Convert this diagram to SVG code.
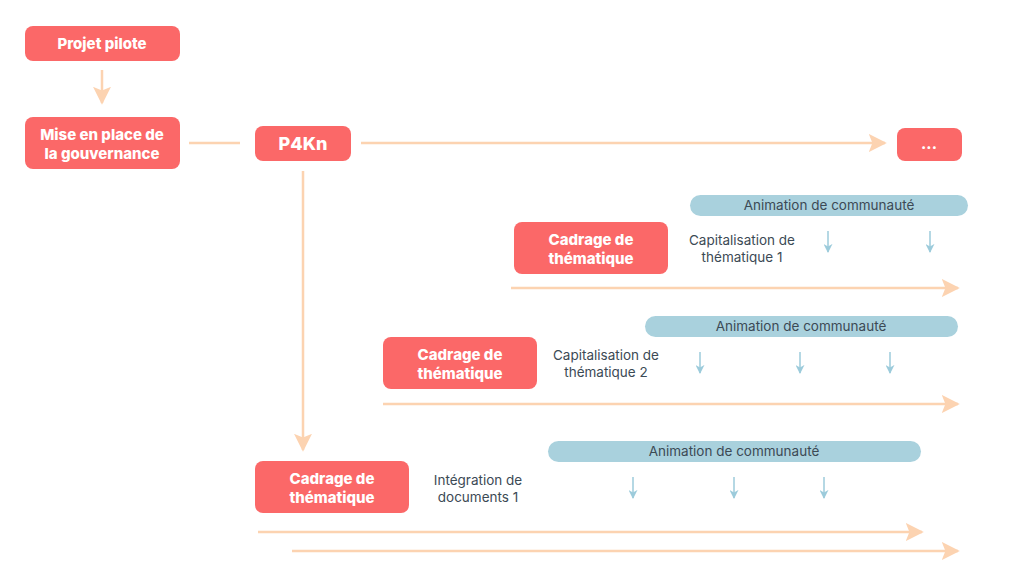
<svg xmlns="http://www.w3.org/2000/svg" width="1024" height="576" viewBox="0 0 1024 576">
<style>
.n{fill:#FB6868}
.t{font-family:Inter,"Noto Sans",sans-serif;font-weight:800;fill:#fff;text-anchor:middle;font-size:15px}
.bar{fill:#A9D1DD}
.bt{font-family:Inter,"Noto Sans",sans-serif;font-size:13.5px;fill:#3C4A55;text-anchor:middle}
.c{stroke:#FCD3B1;stroke-width:2.5;fill:none}
.b{stroke:#9CCBDB;stroke-width:1.5;fill:none}
</style>
<defs>
<marker id="a" markerWidth="8" markerHeight="8" refX="6" refY="4" orient="auto" markerUnits="userSpaceOnUse" viewBox="0 0 8 8"><path d="M0,0L8,4L0,8Z" fill="#FCD3B1"/></marker>
<marker id="pa" viewBox="0 0 10 10" refX="9" refY="5" markerWidth="18" markerHeight="18" orient="auto" markerUnits="userSpaceOnUse"><path d="M0,0L10,5L0,10L2,5Z" fill="#FCD3B1"/></marker>
<marker id="ba" viewBox="0 0 10 10" refX="9" refY="5" markerWidth="9" markerHeight="9" orient="auto" markerUnits="userSpaceOnUse"><path d="M0,0L10,5L0,10L3,5Z" fill="#9CCBDB"/></marker>
</defs>
<rect width="1024" height="576" fill="#fff"/>
<g id="connectors">
<line class="c" x1="102" y1="70" x2="102" y2="103" marker-end="url(#pa)"/>
<line class="c" x1="189" y1="143" x2="240" y2="143"/>
<line class="c" x1="361" y1="143" x2="885" y2="143" marker-end="url(#pa)"/>
<line class="c" x1="303" y1="171" x2="303" y2="450" marker-end="url(#pa)"/>
<line class="c" x1="511" y1="288" x2="958" y2="288" marker-end="url(#pa)"/>
<line class="c" x1="383" y1="404" x2="958" y2="404" marker-end="url(#pa)"/>
<line class="c" x1="258" y1="532" x2="922" y2="532" marker-end="url(#pa)"/>
<line class="c" x1="292" y1="551" x2="958" y2="551" marker-end="url(#pa)"/>
<g class="b">
<line x1="828" y1="231" x2="828" y2="252" marker-end="url(#ba)"/>
<line x1="930" y1="231" x2="930" y2="252" marker-end="url(#ba)"/>
<line x1="700" y1="352" x2="700" y2="373" marker-end="url(#ba)"/>
<line x1="800" y1="352" x2="800" y2="373" marker-end="url(#ba)"/>
<line x1="890" y1="352" x2="890" y2="373" marker-end="url(#ba)"/>
<line x1="633" y1="477" x2="633" y2="498" marker-end="url(#ba)"/>
<line x1="734" y1="477" x2="734" y2="498" marker-end="url(#ba)"/>
<line x1="824" y1="477" x2="824" y2="498" marker-end="url(#ba)"/>
</g>
</g>
<g id="projet"><rect class="n" x="25" y="26" width="155" height="35" rx="8"/><text class="t" x="102" y="49">Projet pilote</text></g>
<g id="mise"><rect class="n" x="25" y="117" width="155" height="52" rx="8"/><text class="t" x="102" y="140">Mise en place de</text><text class="t" x="102" y="159">la gouvernance</text></g>
<g id="p4kn"><rect class="n" x="255" y="126" width="96" height="35" rx="8"/><text class="t" x="303" y="150" font-size="18" style="font-size:18px">P4Kn</text></g>
<g id="dots"><rect class="n" x="897" y="128" width="65" height="33" rx="8"/><text class="t" x="929" y="149">...</text></g>
<g id="anim1"><rect class="bar" x="690" y="195" width="278" height="21" rx="10.5"/><text class="bt" x="829" y="210">Animation de communauté</text></g>
<g id="cad1"><rect class="n" x="514" y="222" width="154" height="52" rx="8"/><text class="t" x="591" y="245">Cadrage de</text><text class="t" x="591" y="264">thématique</text></g>
<g id="cap1"><text class="bt" x="742" y="245">Capitalisation de</text><text class="bt" x="742" y="262">thématique 1</text></g>
<g id="anim2"><rect class="bar" x="645" y="316" width="313" height="21" rx="10.5"/><text class="bt" x="801" y="331">Animation de communauté</text></g>
<g id="cad2"><rect class="n" x="383" y="337" width="154" height="52" rx="8"/><text class="t" x="460" y="360">Cadrage de</text><text class="t" x="460" y="379">thématique</text></g>
<g id="cap2"><text class="bt" x="606" y="360">Capitalisation de</text><text class="bt" x="606" y="377">thématique 2</text></g>
<g id="anim3"><rect class="bar" x="548" y="441" width="373" height="21" rx="10.5"/><text class="bt" x="734" y="456">Animation de communauté</text></g>
<g id="cad3"><rect class="n" x="255" y="461" width="154" height="52" rx="8"/><text class="t" x="332" y="484">Cadrage de</text><text class="t" x="332" y="503">thématique</text></g>
<g id="int"><text class="bt" x="478" y="485">Intégration de</text><text class="bt" x="478" y="502">documents 1</text></g>
</svg>
